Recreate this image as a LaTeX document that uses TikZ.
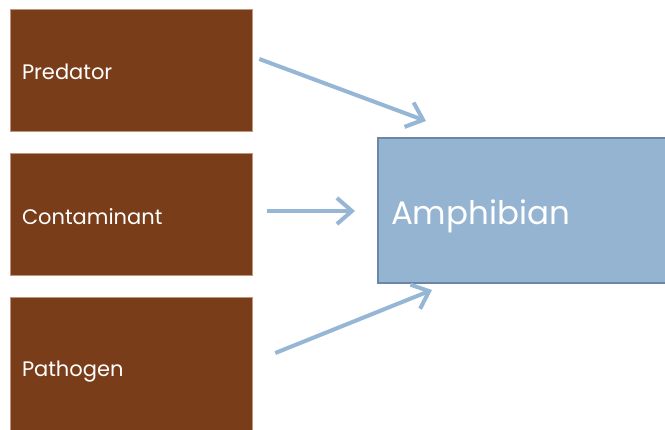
\documentclass[tikz,border=0pt]{standalone}
\usepackage{fontspec}
\setmainfont{Poppins}
\usetikzlibrary{arrows.meta,positioning,calc}
\definecolor{bark}{RGB}{122,61,25}
\definecolor{barkedge}{RGB}{190,150,125}
\definecolor{pond}{RGB}{148,180,210}
\definecolor{pondedge}{RGB}{108,135,165}
\definecolor{stream}{RGB}{150,182,213}
\tikzset{
  cause/.style={draw=barkedge,line width=0.6pt,fill=bark,text=white,minimum width=242pt,minimum height=122pt,
    text width=218pt,inner xsep=11pt,align=left,text height=20pt,text depth=0pt,font=\fontsize{21}{24}\selectfont},
  target/.style={draw=pondedge,line width=1.6pt,fill=pond,text=white,minimum width=330pt,minimum height=145pt,
    text width=304pt,inner xsep=12pt,align=left,text height=29pt,text depth=0pt,font=\fontsize{32.5}{38}\selectfont},
  arr/.style={-{Straight Barb[length=15pt,width=26pt]},draw=stream,line width=4pt}
}
\begin{document}
\begin{tikzpicture}[x=1pt,y=-1pt]
  \clip (0,0) rectangle (665,430);
  \fill[white] (0,0) rectangle (665,430);
  \node[cause] (pred) at (131,70) {Predator};
  \node[cause] (cont) at (131,214.5) {Contaminant};
  \node[cause,minimum height=140pt] (path) at (131,367) {Pathogen};
  \node[target] (amph) at (543,210.5) {Amphibian};
  % free ends of the arrows
  \coordinate (predtip) at (426,121);
  \coordinate (conttip) at (355,211);
  \coordinate (pathtip) at (432,290);
  \draw[arr] ($(pred.east)+(7,-11)$) -- (predtip);
  \draw[arr] ($(cont.east)+(15,-3.5)$) -- (conttip);
  \draw[arr] ($(path.east)+(23,-14)$) -- (pathtip);
\end{tikzpicture}
\end{document}
